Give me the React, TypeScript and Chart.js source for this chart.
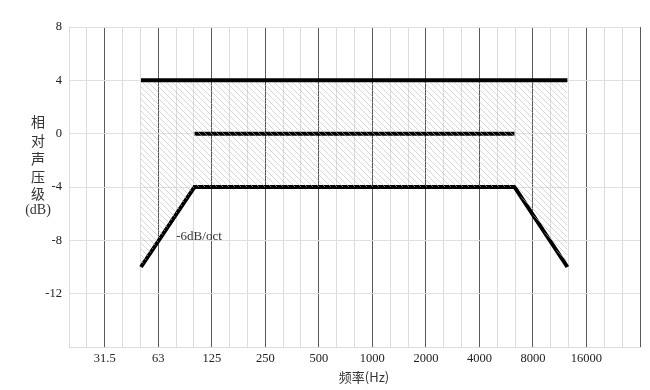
import React, { useEffect, useRef } from 'react';
import { Chart, registerables } from 'chart.js';

Chart.register(...registerables);

// Octave band labels (major grid lines)
const bandLabels = ['31.5', '63', '125', '250', '500', '1000', '2000', '4000', '8000', '16000'];
// Upper tolerance limit
const upperFreq = [50, 100, 6300, 12500];
const upperLevel = [4, 4, 4, 4];
// Nominal (0 dB) line
const midFreq = [100, 6300];
const midLevel = [0, 0];
// Lower tolerance limit
const lowerFreq = [50, 100, 6300, 12500];
const lowerLevel = [-10, -4, -4, -10];
// Y axis
const yMin = -16;
const yMax = 8;
const yStep = 4;

const slopeNote = '-6dB/oct';
const yTitle = ['相', '对', '声', '压', '级', '(dB)'];
const xTitle = '频率(Hz)';

// third-octave grid positions (relative to 1 kHz)
const thirdOctaveSteps: number[] = [];
for (let n = -17; n <= 15; n++) thirdOctaveSteps.push(n);

export default function App() {
  const ref = useRef<HTMLCanvasElement | null>(null);

  useEffect(() => {
    const canvas = ref.current;
    if (!canvas) return;

    const tile = document.createElement('canvas');
    const s = 6;
    tile.width = s;
    tile.height = s;
    const tctx = tile.getContext('2d')!;
    tctx.strokeStyle = 'rgba(185,185,185,0.6)';
    tctx.lineWidth = 1;
    for (const k of [-s, 0, s]) {
      tctx.beginPath();
      tctx.moveTo(k, 0);
      tctx.lineTo(k + s, s);
      tctx.stroke();
    }
    const pattern = canvas.getContext('2d')!.createPattern(tile, 'repeat')!;

    const toPts = (xs: number[], ys: number[]) => xs.map((x, i) => ({ x, y: ys[i] }));

    const textPlugin = {
      id: 'texts',
      afterDraw(chart: any) {
        const ctx = chart.ctx as CanvasRenderingContext2D;
        ctx.save();
        ctx.fillStyle = '#333';
        ctx.textAlign = 'center';
        ctx.textBaseline = 'middle';
        const ys = [122, 141, 159, 177, 194, 210];
        yTitle.forEach((t, i) => {
          ctx.font = t === '(dB)' ? '14px "Liberation Serif", serif' : '14px "Noto Sans CJK SC", sans-serif';
          ctx.fillText(t, 38, ys[i]);
        });
        ctx.font = '13px "Noto Sans CJK SC", sans-serif';
        ctx.fillText(xTitle, 364, 377);
        const xs = chart.scales.x;
        const yS = chart.scales.y;
        ctx.textAlign = 'left';
        ctx.font = '13px "Liberation Serif", serif';
        ctx.fillText(slopeNote, xs.getPixelForValue(80) - 1, yS.getPixelForValue(-7.7));
        ctx.restore();
      },
    };

    const lineStyle = {
      borderColor: '#000',
      borderWidth: 4,
      pointRadius: 0,
      tension: 0,
      borderCapStyle: 'butt' as const,
      borderJoinStyle: 'miter' as const,
    };

    const chart = new Chart(canvas, {
      type: 'line',
      data: {
        datasets: [
          { ...lineStyle, data: toPts(upperFreq, upperLevel), fill: '+2', backgroundColor: pattern },
          { ...lineStyle, data: toPts(midFreq, midLevel), fill: false },
          { ...lineStyle, data: toPts(lowerFreq, lowerLevel), fill: false },
        ],
      },
      options: {
        animation: false,
        responsive: false,
        layout: { padding: { top: 27, right: 10, left: 0, bottom: 0 } },
        plugins: { legend: { display: false }, tooltip: { enabled: false } },
        scales: {
          x: {
            type: 'logarithmic',
            min: 1000 * Math.pow(2, -17 / 3),
            max: 1000 * Math.pow(2, 5),
            afterBuildTicks(scale: any) {
              scale.ticks = thirdOctaveSteps.map((n) => ({ value: 1000 * Math.pow(2, n / 3) }));
            },
            afterFit(scale: any) {
              scale.height = 43;
            },
            ticks: {
              autoSkip: false,
              maxRotation: 0,
              minRotation: 0,
              padding: 4,
              color: '#222',
              font: { family: '"Liberation Serif", serif', size: 12.5 },
              callback(_v: any, i: number) {
                if (i % 3 === 2) return bandLabels[(i - 2) / 3] ?? '';
                return '';
              },
            },
            grid: {
              drawTicks: false,
              color: (c: any) => (c.index % 3 === 2 ? '#5a5a5a' : '#dcdcdc'),
              lineWidth: 1,
            },
            border: { color: '#dcdcdc' },
          },
          y: {
            min: yMin,
            max: yMax,
            afterFit(scale: any) {
              scale.width = 69;
            },
            ticks: {
              stepSize: yStep,
              padding: 7,
              color: '#222',
              font: { family: '"Liberation Serif", serif', size: 12.5 },
              callback(v: any) {
                return v === yMin ? '' : String(v);
              },
            },
            grid: { drawTicks: false, color: '#e0e0e0' },
            border: { color: '#dcdcdc' },
          },
        },
      },
      plugins: [textPlugin],
    });

    return () => chart.destroy();
  }, []);

  return (
    <div style={{ position: 'absolute', left: 0, top: 0, width: 650, height: 390, background: '#fff' }}>
      <canvas ref={ref} width={650} height={390} />
    </div>
  );
}
